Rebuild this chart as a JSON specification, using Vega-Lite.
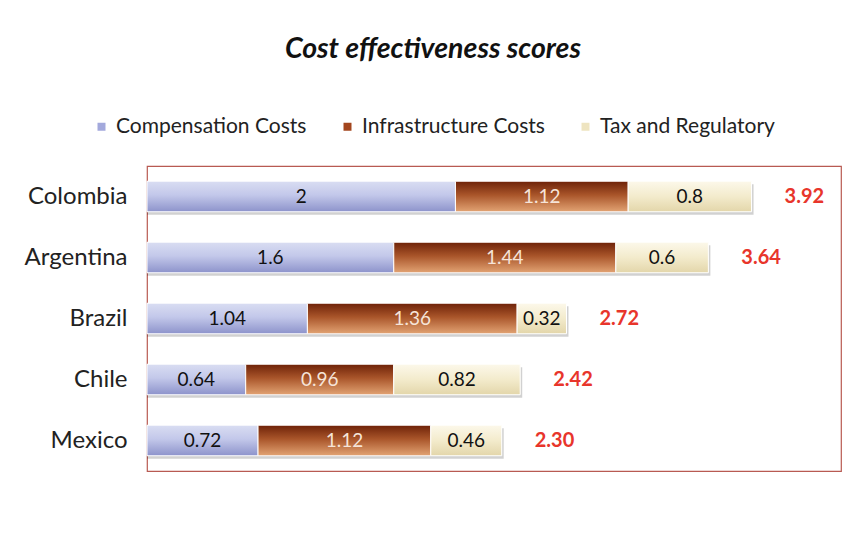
{
  "$schema": "https://vega.github.io/schema/vega-lite/v6.json",
  "width": 694,
  "height": 305,
  "autosize": {"type": "none"},
  "padding": {"left": 147, "top": 166, "right": 6, "bottom": 62},
  "background": "#ffffff",
  "config": {
    "font": "Lato",
    "view": {"stroke": "#b85a52", "strokeWidth": 1.2},
    "axis": {"labelFont": "Lato", "titleFont": "Lato"},
    "legend": {"labelFont": "Lato"},
    "title": {"font": "Lato"}
  },
  "title": {
    "text": "Cost effectiveness scores",
    "fontSize": 28.5,
    "fontStyle": "italic",
    "fontWeight": "bold",
    "color": "#111111",
    "anchor": "middle",
    "dx": -61,
    "offset": 53
  },
  "data": {
    "values": [
      {"country": "Colombia", "category": "Compensation Costs", "value": 2},
      {"country": "Colombia", "category": "Infrastructure Costs", "value": 1.12},
      {"country": "Colombia", "category": "Tax and Regulatory", "value": 0.8},
      {"country": "Argentina", "category": "Compensation Costs", "value": 1.6},
      {"country": "Argentina", "category": "Infrastructure Costs", "value": 1.44},
      {"country": "Argentina", "category": "Tax and Regulatory", "value": 0.6},
      {"country": "Brazil", "category": "Compensation Costs", "value": 1.04},
      {"country": "Brazil", "category": "Infrastructure Costs", "value": 1.36},
      {"country": "Brazil", "category": "Tax and Regulatory", "value": 0.32},
      {"country": "Chile", "category": "Compensation Costs", "value": 0.64},
      {"country": "Chile", "category": "Infrastructure Costs", "value": 0.96},
      {"country": "Chile", "category": "Tax and Regulatory", "value": 0.82},
      {"country": "Mexico", "category": "Compensation Costs", "value": 0.72},
      {"country": "Mexico", "category": "Infrastructure Costs", "value": 1.12},
      {"country": "Mexico", "category": "Tax and Regulatory", "value": 0.46}
    ]
  },
  "transform": [
    {"stack": "value", "groupby": ["country"], "sort": [{"field": "category", "order": "ascending"}], "as": ["x0", "x1"]},
    {"calculate": "(datum.x0 + datum.x1) / 2", "as": "xmid"}
  ],
  "encoding": {
    "y": {
      "field": "country",
      "type": "nominal",
      "sort": ["Colombia", "Argentina", "Brazil", "Chile", "Mexico"],
      "scale": {"paddingInner": 0.5, "paddingOuter": 0.25},
      "axis": {
        "title": null,
        "domain": false,
        "ticks": false,
        "labelFontSize": 24,
        "labelColor": "#222222",
        "labelPadding": 20
      }
    }
  },
  "layer": [
    {
      "transform": [{"filter": "datum.category === 'Tax and Regulatory'"}],
      "mark": {"type": "bar", "fill": "#000000", "opacity": 0.18, "yOffset": 3, "xOffset": 2},
      "encoding": {
        "x": {"field": "x1", "type": "quantitative", "scale": {"domain": [0, 4.5]}, "axis": null},
        "x2": {"datum": 0}
      }
    },
    {
      "mark": {"type": "bar"},
      "encoding": {
        "x": {"field": "x0", "type": "quantitative", "scale": {"domain": [0, 4.5]}, "axis": null},
        "x2": {"field": "x1"},
        "color": {
          "field": "category",
          "type": "nominal",
          "scale": {
            "domain": ["Compensation Costs", "Infrastructure Costs", "Tax and Regulatory"],
            "range": ["#a3a9dc", "#a3461e", "#eee4c0"]
          },
          "legend": {
            "title": null,
            "orient": "none",
            "legendX": -56,
            "legendY": -50,
            "direction": "horizontal",
            "columns": 3,
            "symbolType": "square",
            "symbolSize": 64,
            "symbolStrokeWidth": 0,
            "labelFontSize": 21,
            "labelColor": "#222222",
            "labelOffset": 4,
            "columnPadding": 30,
            "labelLimit": 300
          }
        }
      }
    },
    {
      "transform": [{"filter": "datum.category === 'Compensation Costs'"}],
      "mark": {
        "type": "bar",
        "stroke": "#ffffff",
        "strokeWidth": 1,
        "fill": {"gradient": "linear", "x1": 0, "y1": 0, "x2": 0, "y2": 1,
          "stops": [{"offset": 0, "color": "#d9ddf2"}, {"offset": 0.45, "color": "#c3c8ea"}, {"offset": 1, "color": "#8d93cb"}]}
      },
      "encoding": {
        "x": {"field": "x0", "type": "quantitative"},
        "x2": {"field": "x1"}
      }
    },
    {
      "transform": [{"filter": "datum.category === 'Infrastructure Costs'"}],
      "mark": {
        "type": "bar",
        "stroke": "#ffffff",
        "strokeWidth": 1,
        "fill": {"gradient": "linear", "x1": 0, "y1": 0, "x2": 0, "y2": 1,
          "stops": [{"offset": 0, "color": "#6e2208"}, {"offset": 0.45, "color": "#a9552a"}, {"offset": 1, "color": "#e2a373"}]}
      },
      "encoding": {
        "x": {"field": "x0", "type": "quantitative"},
        "x2": {"field": "x1"}
      }
    },
    {
      "transform": [{"filter": "datum.category === 'Tax and Regulatory'"}],
      "mark": {
        "type": "bar",
        "stroke": "#ffffff",
        "strokeWidth": 1,
        "fill": {"gradient": "linear", "x1": 0, "y1": 0, "x2": 0, "y2": 1,
          "stops": [{"offset": 0, "color": "#fcf8ea"}, {"offset": 0.5, "color": "#f3ebcc"}, {"offset": 1, "color": "#e3d6aa"}]}
      },
      "encoding": {
        "x": {"field": "x0", "type": "quantitative"},
        "x2": {"field": "x1"}
      }
    },
    {
      "mark": {"type": "text", "fontSize": 19, "align": "center", "baseline": "middle"},
      "encoding": {
        "x": {"field": "xmid", "type": "quantitative"},
        "text": {"field": "value", "type": "quantitative", "format": "~g"},
        "color": {
          "condition": {"test": "datum.category === 'Infrastructure Costs'", "value": "#f6e4d8"},
          "value": "#111111"
        }
      }
    },
    {
      "transform": [{"aggregate": [{"op": "sum", "field": "value", "as": "total"}], "groupby": ["country"]}],
      "mark": {"type": "text", "fontSize": 20, "fontWeight": "bold", "align": "left", "baseline": "middle", "dx": 33, "color": "#e8352b"},
      "encoding": {
        "x": {"field": "total", "type": "quantitative"},
        "text": {"field": "total", "type": "quantitative", "format": ".2f"}
      }
    }
  ]
}
